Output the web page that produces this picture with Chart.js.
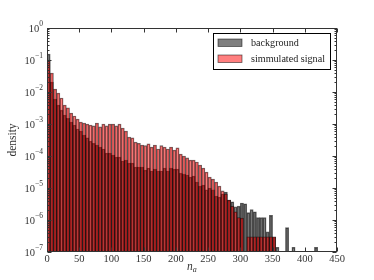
<!DOCTYPE html>
<html><head><meta charset="utf-8">
<script src="https://cdn.jsdelivr.net/npm/chart.js@4"></script>
<style>html,body{margin:0;padding:0;background:#fff}</style>
</head><body>
<canvas id="c" width="374" height="280"></canvas>
<script>
// ---- data (histogram density, bins of width 5 starting at 0) ----
const binStart = 0;
const binWidth = 5;
const background = [
  0.154, 0.0205, 0.0060, 0.0039, 0.0027, 0.0019, 0.0015, 0.00115, 0.00093, 0.00070,
  0.00060, 0.00045, 0.00037, 0.00029, 0.00025, 0.00022, 0.00019, 0.000166, 0.000124, 0.000124,
  0.000107, 0.000093, 0.000093, 0.000070, 0.000075, 0.000060, 0.000060, 0.000045, 0.000045, 0.000045,
  0.0000365, 0.000042, 0.000034, 0.000039, 0.000034, 0.000034, 0.000042, 0.000034, 0.000042, 0.000039,
  0.000039, 0.000029, 0.000027, 0.0000255, 0.000022, 0.0000237, 0.0000154, 0.0000115, 0.0000124, 0.0000087,
  0.0000100, 0.0000087, 0.0000056, 0.0000052, 0.0000065, 0.0000075, 0.0000042, 0.0000037, 0.0000026, 0.0000027,
  0.0000034, 0.0000032, 0.0000017, 0.0000021, 0.0000018, 0.0000012, 0.0000012, 0.0000012, 0.00000043, 0.0000014,
  0.00000029, 0.00000014, null, null, 0.00000058, null, 0.00000014, null, null, null,
  null, null, null, 0.00000014
];
const signal = [
  0.100, 0.039, 0.0124, 0.0093, 0.0065, 0.0039, 0.0032, 0.0022, 0.00178, 0.00143,
  0.00115, 0.00107, 0.00100, 0.00093, 0.00087, 0.00107, 0.00081, 0.00100, 0.00087, 0.00100,
  0.00100, 0.00087, 0.00100, 0.00075, 0.00060, 0.00039, 0.00037, 0.00027, 0.00025, 0.00022,
  0.00021, 0.00024, 0.00019, 0.00022, 0.000166, 0.00021, 0.00019, 0.000166, 0.00019, 0.000154,
  0.00018, 0.000115, 0.0001, 0.000087, 0.000075, 0.000075, 0.000065, 0.000052, 0.000042, 0.0000316,
  0.000022, 0.000019, 0.0000154, 0.0000115, 0.0000081, 0.0000065, 0.0000042, 0.0000027, 0.0000018, 0.0000012,
  0.00000115, null, 0.0000003, 0.0000003, 0.0000003, 0.0000003, 0.0000003, 0.0000003, 0.0000003, 0.0000003,
  0.0000003, null, null, null, null, null, null, null, null, null,
  null, null, null, null
];
const xTicks = [0, 50, 100, 150, 200, 250, 300, 350, 400, 450];
const yExponents = [0, -1, -2, -3, -4, -5, -6, -7];
const seriesNames = ['background', 'simmulated signal'];
const xTitleMain = 'n';
const xTitleSub = 'a';
const yTitle = 'density';

const SERIF = '"Liberation Serif", "DejaVu Serif", serif';
const bgFill = 'rgba(0,0,0,0.5)';
const sgFill = 'rgba(255,0,0,0.5)';
const edge = 'rgba(0,0,0,0.6)';

const centers = background.map((_, i) => binStart + (i + 0.5) * binWidth);
const pts = arr => centers.map((x, i) => ({ x, y: arr[i] == null ? null : arr[i] }));

const deco = {
  id: 'deco',
  afterDatasetsDraw(chart) {
    const { ctx, chartArea: a, scales: { x, y } } = chart;
    ctx.save();
    const L = Math.round(a.left) + 0.5, R = Math.round(a.right) - 0.5;
    const T = Math.round(a.top) + 0.5, B = Math.round(a.bottom) - 0.5;
    ctx.strokeStyle = '#333';
    ctx.lineWidth = 1;
    ctx.strokeRect(L, T, R - L, B - T);
    ctx.beginPath();
    xTicks.forEach(v => {
      const px = Math.round(x.getPixelForValue(v)) + 0.5;
      ctx.moveTo(px, B); ctx.lineTo(px, B - 4);
      ctx.moveTo(px, T); ctx.lineTo(px, T + 4);
    });
    yExponents.forEach(e => {
      const py = Math.round(y.getPixelForValue(Math.pow(10, e))) + 0.5;
      ctx.moveTo(L, py); ctx.lineTo(L + 4, py);
      ctx.moveTo(R, py); ctx.lineTo(R - 4, py);
      if (e < 0) {
        for (let m = 2; m <= 9; m++) {
          const my = Math.round(y.getPixelForValue(m * Math.pow(10, e))) + 0.5;
          ctx.moveTo(L, my); ctx.lineTo(L + 2, my);
          ctx.moveTo(R, my); ctx.lineTo(R - 2, my);
        }
      }
    });
    ctx.stroke();

    ctx.fillStyle = '#333';
    ctx.font = '10.5px ' + SERIF;
    ctx.textAlign = 'center';
    ctx.textBaseline = 'middle';
    xTicks.forEach(v => ctx.fillText(String(v), x.getPixelForValue(v), a.bottom + 7));
    yExponents.forEach(e => {
      const py = y.getPixelForValue(Math.pow(10, e));
      const ex = e === 0 ? '0' : '\u2212' + String(-e);
      ctx.font = '7.5px ' + SERIF;
      const w = ctx.measureText(ex).width;
      ctx.textAlign = 'right';
      ctx.fillText(ex, a.left - 4, py - 4);
      ctx.font = '10.5px ' + SERIF;
      ctx.fillText('10', a.left - 4 - w, py + 1.5);
    });
    ctx.font = '11.5px ' + SERIF;
    ctx.save();
    ctx.translate(13, (a.top + a.bottom) / 2);
    ctx.rotate(-Math.PI / 2);
    ctx.textAlign = 'center';
    ctx.fillText(yTitle, 0, 0);
    ctx.restore();
    ctx.font = 'italic 11.5px ' + SERIF;
    ctx.textAlign = 'left';
    const cx = (a.left + a.right) / 2;
    const nw = ctx.measureText(xTitleMain).width;
    ctx.fillText(xTitleMain, cx - 5, a.bottom + 15);
    ctx.font = 'italic 8px ' + SERIF;
    ctx.fillText(xTitleSub, cx - 5 + nw, a.bottom + 18);

    // legend
    ctx.fillStyle = '#fff';
    ctx.fillRect(213.5, 33.5, 117, 36);
    ctx.strokeStyle = '#000';
    ctx.lineWidth = 1;
    ctx.strokeRect(213.5, 33.5, 117, 36);
    const fills = [bgFill, sgFill];
    const rows = [42.5, 58.5];
    ctx.font = '11px ' + SERIF;
    const widest = ctx.measureText(seriesNames[1]).width;
    const fs = Math.min(11, 11 * 74 / widest);
    ctx.font = fs.toFixed(2) + 'px ' + SERIF;
    ctx.textBaseline = 'middle';
    seriesNames.forEach((name, i) => {
      ctx.fillStyle = fills[i];
      ctx.fillRect(218, rows[i] - 3.5, 24, 7.5);
      ctx.strokeStyle = edge;
      ctx.lineWidth = 0.8;
      ctx.strokeRect(218, rows[i] - 3.5, 24, 7.5);
      ctx.fillStyle = '#222';
      ctx.fillText(name, 251, rows[i] + 0.5);
    });
    ctx.restore();
  }
};

new Chart(document.getElementById('c'), {
  type: 'bar',
  data: {
    datasets: [
      { label: seriesNames[0], data: pts(background), backgroundColor: bgFill, borderColor: edge,
        borderWidth: 0.8, barPercentage: 1, categoryPercentage: 1, grouped: false, order: 2 },
      { label: seriesNames[1], data: pts(signal), backgroundColor: sgFill, borderColor: edge,
        borderWidth: 0.8, barPercentage: 1, categoryPercentage: 1, grouped: false, order: 1 }
    ]
  },
  options: {
    responsive: false,
    animation: false,
    devicePixelRatio: 1,
    layout: { padding: { left: 0, right: 37, top: 28, bottom: 0 } },
    plugins: { legend: { display: false }, tooltip: { enabled: false } },
    scales: {
      x: { type: 'linear', min: 0, max: 450, offset: false,
           grid: { display: false }, border: { display: false }, ticks: { display: false },
           afterFit: s => { s.height = 28; } },
      y: { type: 'logarithmic', min: 1e-7, max: 1,
           grid: { display: false }, border: { display: false }, ticks: { display: false },
           afterFit: s => { s.width = 47; } }
    }
  },
  plugins: [deco]
});
</script>
</body></html>
